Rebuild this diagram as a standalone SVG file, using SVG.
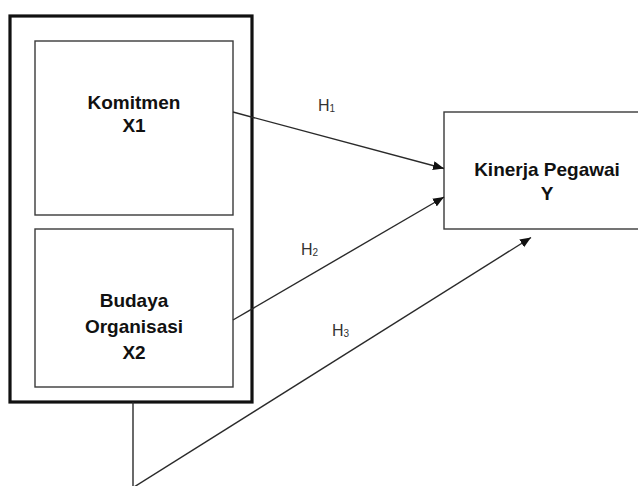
<svg xmlns="http://www.w3.org/2000/svg" width="638" height="486" viewBox="0 0 638 486">
  <style>
    .box { fill: #ffffff; stroke: #3a3a3a; stroke-width: 1.4; }
    .outer { fill: none; stroke: #111111; stroke-width: 3.2; }
    .lbl { font-family: "Liberation Sans", Arial, sans-serif; font-weight: bold; font-size: 19px; fill: #111111; text-anchor: middle; }
    .h { font-family: "Liberation Sans", Arial, sans-serif; font-size: 16px; fill: #333333; }
    .sub { font-size: 10px; }
    .conn { stroke: #2a2a2a; stroke-width: 1.4; fill: none; }
  </style>
  <defs>
    <marker id="arrow" markerUnits="userSpaceOnUse" markerWidth="12" markerHeight="10" refX="11" refY="4.5" orient="auto">
      <path d="M0,0 L11,4.5 L0,9 Z" fill="#111111"/>
    </marker>
  </defs>
  <rect width="638" height="486" fill="#ffffff"/>

  <g id="group-x">
    <rect class="outer" x="10" y="16" width="242" height="386"/>
  </g>
  <g id="node-x1">
    <rect class="box" x="35" y="41" width="198" height="174"/>
    <text class="lbl" x="134" y="109">Komitmen</text>
    <text class="lbl" x="134" y="132">X1</text>
  </g>
  <g id="node-x2">
    <rect class="box" x="35" y="229" width="198" height="158"/>
    <text class="lbl" x="134" y="307">Budaya</text>
    <text class="lbl" x="134" y="333">Organisasi</text>
    <text class="lbl" x="134" y="359">X2</text>
  </g>
  <g id="node-y">
    <rect class="box" x="444" y="112" width="200" height="117"/>
    <text class="lbl" x="547" y="176">Kinerja Pegawai</text>
    <text class="lbl" x="547" y="200">Y</text>
  </g>

  <g id="connectors">
    <line class="conn" x1="233" y1="112" x2="444" y2="168.5" marker-end="url(#arrow)"/>
    <line class="conn" x1="233" y1="320" x2="444" y2="197" marker-end="url(#arrow)"/>
    <polyline class="conn" points="133,402 133,486"/>
    <line class="conn" x1="134" y1="487" x2="531" y2="237.5" marker-end="url(#arrow)"/>
  </g>

  <g id="labels">
    <text class="h" x="318" y="111">H<tspan class="sub" dy="1">1</tspan></text>
    <text class="h" x="301" y="255">H<tspan class="sub" dy="1">2</tspan></text>
    <text class="h" x="332" y="336">H<tspan class="sub" dy="1">3</tspan></text>
  </g>
</svg>
